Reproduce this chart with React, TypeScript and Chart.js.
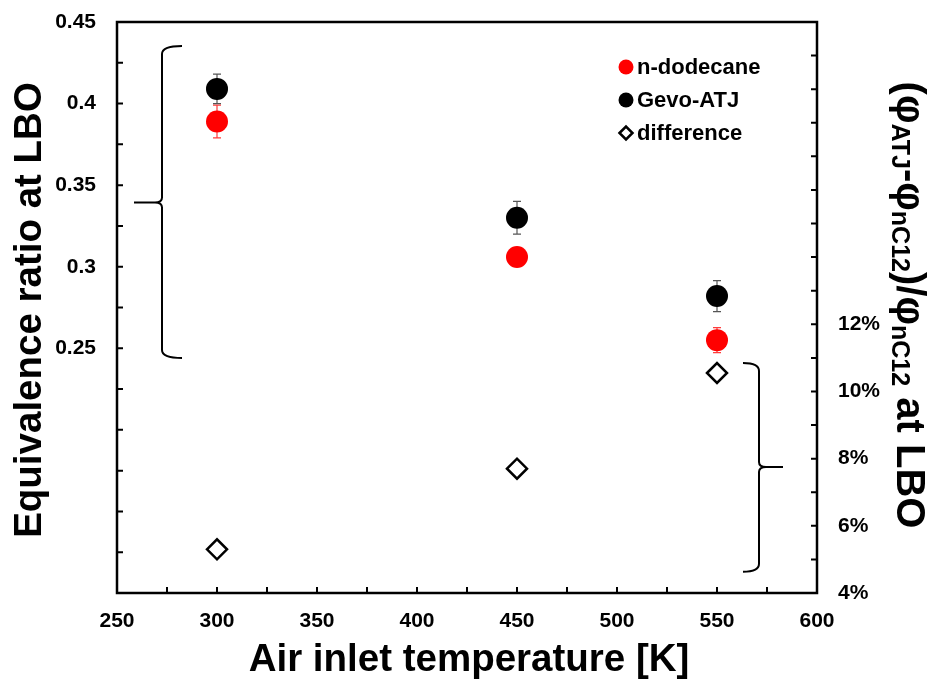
import React, { useEffect, useRef } from "react";
import { Chart, registerables } from "chart.js";

Chart.register(...registerables);

// ---------- data ----------
const temperatures = [300, 450, 550];
const nDodecane = [0.389, 0.306, 0.255];
const nDodecaneErr = [0.010, 0.004, 0.0077];
const gevoATJ = [0.409, 0.330, 0.282];
const gevoATJErr = [0.009, 0.010, 0.0095];
const difference = [0.053, 0.077, 0.1055];

const seriesLabels = ["n-dodecane", "Gevo-ATJ", "difference"];
const xLabelValues = [250, 300, 350, 400, 450, 500, 550, 600];
const leftLabelValues = [0.25, 0.3, 0.35, 0.4, 0.45];
const rightLabelValues = [0.04, 0.06, 0.08, 0.1, 0.12];

// brace annotations in data units
const leftBrace = { xTip: 258.5, xLine: 272.5, xEnd: 282.5, yTop: 0.4353, yMid: 0.3393, yBottom: 0.2441 };
const rightBrace = { xTip: 583, xLine: 571, xEnd: 563, yTop: 0.1085, yMid: 0.0775, yBottom: 0.0463 };

const FONT = "'Liberation Sans', Arial, Helvetica, sans-serif";

function drawBrace(ctx: CanvasRenderingContext2D, xTip: number, xLine: number, xEnd: number, yTop: number, yMid: number, yBottom: number) {
  const d = xTip < xLine ? -1 : 1; // direction of tip
  const r = 8;
  ctx.beginPath();
  ctx.moveTo(xEnd, yTop);
  ctx.quadraticCurveTo(xLine, yTop, xLine, yTop + r);
  ctx.lineTo(xLine, yMid - 5);
  ctx.quadraticCurveTo(xLine, yMid, xLine + d * 7, yMid);
  ctx.lineTo(xTip, yMid);
  ctx.moveTo(xLine + d * 7, yMid);
  ctx.quadraticCurveTo(xLine, yMid, xLine, yMid + 5);
  ctx.lineTo(xLine, yBottom - r);
  ctx.quadraticCurveTo(xLine, yBottom, xEnd, yBottom);
  ctx.stroke();
}

const overlayPlugin = {
  id: "overlay",
  beforeDatasetsDraw(chart: any) {
    const ctx: CanvasRenderingContext2D = chart.ctx;
    const xs = chart.scales.x;
    const ys = chart.scales.y;
    chart.data.datasets.forEach((ds: any) => {
      if (!ds.errors) return;
      ctx.save();
      ctx.strokeStyle = ds.errorColor;
      ctx.lineWidth = 1.2;
      ds.data.forEach((p: any, i: number) => {
        const e = ds.errors[i];
        const x = xs.getPixelForValue(p.x);
        const y1 = ys.getPixelForValue(p.y + e);
        const y2 = ys.getPixelForValue(p.y - e);
        ctx.beginPath();
        ctx.moveTo(x, y1);
        ctx.lineTo(x, y2);
        ctx.moveTo(x - 4, y1);
        ctx.lineTo(x + 4, y1);
        ctx.moveTo(x - 4, y2);
        ctx.lineTo(x + 4, y2);
        ctx.stroke();
      });
      ctx.restore();
    });
  },
  afterDraw(chart: any) {
    const ctx: CanvasRenderingContext2D = chart.ctx;
    const { left, right, top, bottom } = chart.chartArea;
    const xs = chart.scales.x;
    const ys = chart.scales.y;
    const y2 = chart.scales.y2;
    ctx.save();
    ctx.strokeStyle = "#000";
    ctx.fillStyle = "#000";

    // frame
    ctx.lineWidth = 2.5;
    ctx.strokeRect(left, top, right - left, bottom - top);

    // inward ticks
    const tl = 6;
    ctx.lineWidth = 2;
    ctx.beginPath();
    xs.ticks.forEach((t: any) => {
      const x = xs.getPixelForValue(t.value);
      ctx.moveTo(x, bottom);
      ctx.lineTo(x, bottom - tl);
    });
    ys.ticks.forEach((t: any) => {
      const y = ys.getPixelForValue(t.value);
      ctx.moveTo(left, y);
      ctx.lineTo(left + tl, y);
    });
    y2.ticks.forEach((t: any) => {
      const y = y2.getPixelForValue(t.value);
      ctx.moveTo(right, y);
      ctx.lineTo(right - tl, y);
    });
    ctx.stroke();

    // braces
    ctx.lineWidth = 2;
    drawBrace(
      ctx,
      xs.getPixelForValue(leftBrace.xTip),
      xs.getPixelForValue(leftBrace.xLine),
      xs.getPixelForValue(leftBrace.xEnd),
      ys.getPixelForValue(leftBrace.yTop),
      ys.getPixelForValue(leftBrace.yMid),
      ys.getPixelForValue(leftBrace.yBottom)
    );
    drawBrace(
      ctx,
      xs.getPixelForValue(rightBrace.xTip),
      xs.getPixelForValue(rightBrace.xLine),
      xs.getPixelForValue(rightBrace.xEnd),
      y2.getPixelForValue(rightBrace.yTop),
      y2.getPixelForValue(rightBrace.yMid),
      y2.getPixelForValue(rightBrace.yBottom)
    );

    // legend
    const lx = left + 509;
    const ly = top + 45;
    const lstep = 33;
    ctx.font = `bold 22px ${FONT}`;
    ctx.textAlign = "left";
    ctx.textBaseline = "middle";
    chart.data.datasets.forEach((ds: any, i: number) => {
      const y = ly + i * lstep;
      ctx.beginPath();
      if (ds.pointStyle === "rectRot") {
        const r = 6.5;
        ctx.moveTo(lx - r, y);
        ctx.lineTo(lx, y - r);
        ctx.lineTo(lx + r, y);
        ctx.lineTo(lx, y + r);
        ctx.closePath();
        ctx.fillStyle = "#fff";
        ctx.fill();
        ctx.lineWidth = 2.5;
        ctx.strokeStyle = "#000";
        ctx.stroke();
      } else {
        ctx.arc(lx, y, 7.5, 0, Math.PI * 2);
        ctx.fillStyle = ds.backgroundColor;
        ctx.fill();
      }
      ctx.fillStyle = "#000";
      ctx.fillText(ds.label, lx + 11, y + 1);
    });

    // left title
    ctx.font = `bold 38.5px ${FONT}`;
    ctx.textAlign = "center";
    ctx.textBaseline = "middle";
    ctx.save();
    ctx.translate(30, 310);
    ctx.rotate(-Math.PI / 2);
    ctx.fillText("Equivalence ratio at LBO", 0, 0);
    ctx.restore();

    // bottom title
    ctx.fillText("Air inlet temperature [K]", (left + right) / 2 + 2, 660);

    // right title with subscripts
    const segs: [string, boolean][] = [
      ["(φ", false],
      ["ATJ", true],
      ["-φ", false],
      ["nC12", true],
      [")/φ", false],
      ["nC12", true],
      [" at LBO", false],
    ];
    const mainFont = `bold 40px ${FONT}`;
    const subFont = `bold 25px ${FONT}`;
    let total = 0;
    segs.forEach(([s, sub]) => {
      ctx.font = sub ? subFont : mainFont;
      total += ctx.measureText(s).width;
    });
    ctx.save();
    ctx.translate(908, 305);
    ctx.rotate(Math.PI / 2);
    ctx.textAlign = "left";
    ctx.textBaseline = "middle";
    let cx = -total / 2;
    segs.forEach(([s, sub]) => {
      ctx.font = sub ? subFont : mainFont;
      ctx.fillText(s, cx, sub ? 9 : 0);
      cx += ctx.measureText(s).width;
    });
    ctx.restore();

    ctx.restore();
  },
};

export default function App() {
  const ref = useRef<HTMLCanvasElement>(null);

  useEffect(() => {
    if (!ref.current) return;
    const tickFont = { family: FONT, size: 21, weight: "bold" as const };
    const fitVertical = (w: number) => (s: any) => {
      s.width = w;
      s.paddingTop = 0;
      s.paddingBottom = 0;
    };
    const chart = new Chart(ref.current, {
      type: "scatter",
      data: {
        datasets: [
          {
            label: seriesLabels[0],
            data: temperatures.map((t, i) => ({ x: t, y: nDodecane[i] })),
            backgroundColor: "#ff0000",
            borderColor: "#ff0000",
            pointRadius: 11,
            pointHoverRadius: 11,
            borderWidth: 0,
            yAxisID: "y",
            errors: nDodecaneErr,
            errorColor: "#ff3b3b",
          } as any,
          {
            label: seriesLabels[1],
            data: temperatures.map((t, i) => ({ x: t, y: gevoATJ[i] })),
            backgroundColor: "#000000",
            borderColor: "#000000",
            pointRadius: 11,
            pointHoverRadius: 11,
            borderWidth: 0,
            yAxisID: "y",
            errors: gevoATJErr,
            errorColor: "#555555",
          } as any,
          {
            label: seriesLabels[2],
            data: temperatures.map((t, i) => ({ x: t, y: difference[i] })),
            backgroundColor: "#ffffff",
            borderColor: "#000000",
            pointStyle: "rectRot",
            pointRadius: 10,
            pointHoverRadius: 10,
            borderWidth: 2.5,
            yAxisID: "y2",
          } as any,
        ],
      },
      options: {
        responsive: false,
        animation: false,
        events: [],
        layout: { padding: { top: 22, left: 0, right: 0, bottom: 0 } },
        plugins: {
          legend: { display: false },
          tooltip: { enabled: false },
        },
        scales: {
          x: {
            type: "linear",
            position: "bottom",
            min: 250,
            max: 600,
            border: { display: false },
            grid: { display: false, drawTicks: false },
            ticks: {
              stepSize: 25,
              autoSkip: false,
              maxRotation: 0,
              padding: 16,
              color: "#000",
              font: tickFont,
              callback: (v: any) => (xLabelValues.includes(Number(v)) ? String(v) : ""),
            },
            afterFit: (s: any) => {
              s.height = 91;
              s.paddingLeft = 0;
              s.paddingRight = 0;
            },
          },
          y: {
            type: "linear",
            position: "left",
            min: 0.1,
            max: 0.45,
            border: { display: false },
            grid: { display: false, drawTicks: false },
            ticks: {
              stepSize: 0.025,
              autoSkip: false,
              padding: 21,
              color: "#000",
              font: tickFont,
              callback: (v: any) => {
                const r = Math.round(Number(v) * 1000);
                return leftLabelValues.some((l) => Math.round(l * 1000) === r) ? String(r / 1000) : "";
              },
            },
            afterFit: fitVertical(117),
          },
          y2: {
            type: "linear",
            position: "right",
            min: 0.04,
            max: 0.21,
            border: { display: false },
            grid: { display: false, drawTicks: false },
            ticks: {
              stepSize: 0.01,
              autoSkip: false,
              padding: 21,
              color: "#000",
              font: tickFont,
              callback: (v: any) => {
                const r = Math.round(Number(v) * 100);
                return rightLabelValues.some((l) => Math.round(l * 100) === r) ? r + "%" : "";
              },
            },
            afterFit: fitVertical(118),
          },
        },
      },
      plugins: [overlayPlugin],
    } as any);
    return () => chart.destroy();
  }, []);

  return (
    <div style={{ position: "fixed", left: 0, top: 0, width: 935, height: 684, background: "#fff" }}>
      <canvas ref={ref} width={935} height={684} style={{ display: "block", width: 935, height: 684 }} />
    </div>
  );
}
